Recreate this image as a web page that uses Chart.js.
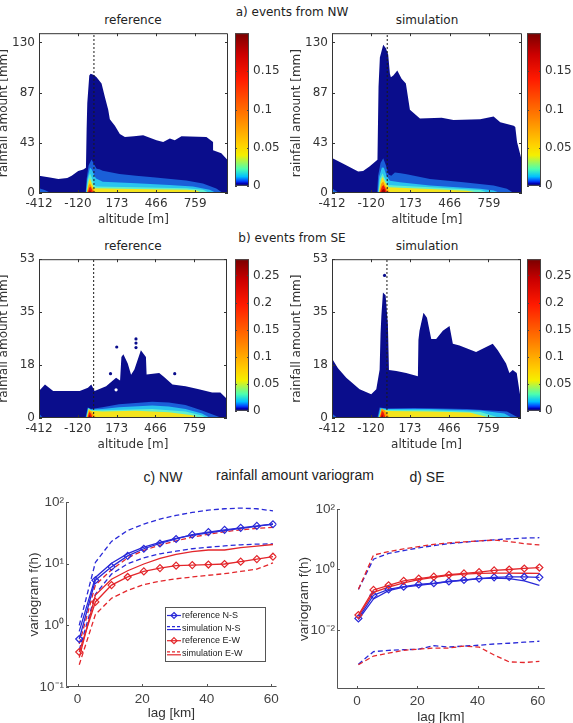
<!DOCTYPE html>
<html>
<head>
<meta charset="utf-8">
<script src="https://cdn.jsdelivr.net/npm/chart.js@4.4.1/dist/chart.umd.min.js"></script>
<style>
  body { margin: 0; background: #fff; }
  #page { position: relative; width: 573px; height: 723px; overflow: hidden; background: #fff; }
  canvas { position: absolute; }
  .lbl { position: absolute; transform: translate(-50%, -50%); white-space: nowrap; color: #222; }
  .dj { font: 12px "DejaVu Sans"; }
  .lib { font: 14px "Liberation Sans"; }
</style>
</head>
<body>
<div id="page">
  <div class="lbl dj" style="left:292px;top:12px">a) events from NW</div>
  <div class="lbl dj" style="left:133px;top:20px">reference</div>
  <div class="lbl dj" style="left:427px;top:20px">simulation</div>
  <div class="lbl dj" style="left:292px;top:238px">b) events from SE</div>
  <div class="lbl dj" style="left:133px;top:246px">reference</div>
  <div class="lbl dj" style="left:427px;top:246px">simulation</div>
  <div class="lbl lib" style="left:295px;top:475px">rainfall amount variogram</div>
  <div class="lbl lib" style="left:163px;top:477px">c) NW</div>
  <div class="lbl lib" style="left:427px;top:477px">d) SE</div>

  <canvas id="nw-ref" width="234" height="205" style="left:-3px;top:22px"></canvas>
  <canvas id="nw-ref-cb" width="48" height="175" style="left:233px;top:22px"></canvas>
  <canvas id="nw-sim" width="235" height="205" style="left:290px;top:22px"></canvas>
  <canvas id="nw-sim-cb" width="48" height="175" style="left:525px;top:22px"></canvas>

  <canvas id="se-ref" width="234" height="204" style="left:-3px;top:248px"></canvas>
  <canvas id="se-ref-cb" width="48" height="174" style="left:233px;top:248px"></canvas>
  <canvas id="se-sim" width="235" height="204" style="left:290px;top:248px"></canvas>
  <canvas id="se-sim-cb" width="48" height="174" style="left:525px;top:248px"></canvas>

  <canvas id="vario-nw" width="257" height="229" style="left:26px;top:492px"></canvas>
  <canvas id="vario-se" width="254" height="226" style="left:296px;top:499px"></canvas>
</div>
<script>
// ---------------------------------------------------------- DATA ----------------------------------------------------------
// contour plots: altitude [m] on x, rainfall amount [mm] on y
const altTicks = [-412, -120, 173, 466, 759];
const altMin = -412, altMax = 1005;
const nwRainTicks = [0, 43.33, 86.67, 130];
const nwRainMax = 138;
const seRainTicks = [0, 17.67, 35.33, 53];
const seRainMax = 53;
const nwCbTicks = [0, 0.05, 0.1, 0.15];
const nwCbMax = 0.2;
const seCbTicks = [0, 0.05, 0.1, 0.15, 0.2, 0.25];
const seCbMax = 0.28;

// upper edge of each filled contour level, [altitude, rainfall]; level 1 = outermost (lowest density)
const nwRef1 = [[-412,15],[-330,13.4],[-267,12],[-200,13],[-167,14.8],[-118,19],[-80,20.4],[-60,21.8],[-55,55],[-50,77.7],[-35,101.5],[-25,103],[0,102],[20,100],[57,94.5],[82,83],[107,72],[119,63.7],[157,58],[194,51],[232,48.4],[300,49],[369,49.8],[469,45.6],[519,44],[569,47],[606,45.6],[656,49],[843,48.4],[893,44],[893,37],[955,34.4],[1005,28]];
const nwRef2 = [[-412,4],[-370,2.5],[-322,0],[-62,0],[-55,12],[-40,24],[-18,29],[5,24],[20,21],[41,20.5],[66,19.3],[191,16.5],[316,15],[442,13.7],[692,10.9],[817,8.1],[917,3.9],[967,0]];
const nwRef3 = [[-412,1.5],[-385,0],[-60,0],[-50,12],[-30,22],[-15,20],[3,15],[16,12.6],[66,9.8],[316,8.4],[566,7],[742,5.6],[867,2.8],[917,0]];
const nwRef4 = [[-57,0],[-45,12],[-30,17],[-15,13],[3,7],[16,5.6],[316,5],[692,4.2],[817,2.8],[867,0]];
const nwRef5 = [[-55,0],[-40,10],[-30,12.6],[-15,8],[3,4.2],[316,3.4],[692,2.8],[767,2.2],[817,0]];
const nwRef6 = [[-53,0],[-40,6.5],[-30,8.4],[-15,5],[0,2.5],[15,0]];
const nwRef7 = [[-48,0],[-35,4.5],[-27,5.6],[-15,3],[-4,0]];
const nwRef8 = [[-40,0],[-30,2.5],[-18,0]];

const nwSim1 = [[-412,30.2],[-317,24.6],[-217,18.5],[-180,19],[-130,23.2],[-73,28.8],[-65,91.7],[-55,117],[-30,128],[-10,125],[7,119.7],[20,103],[27,100],[45,101.5],[75,105.7],[107,98.7],[139,94.5],[169,72],[244,64.3],[406,65],[494,63],[693,63.7],[793,66],[843,61],[943,58],[955,57],[968,44],[1005,27.4]];
const nwSim2 = [[-412,4],[-360,0],[-75,0],[-68,15],[-50,26],[-30,30],[-10,24],[10,16],[30,14.8],[57,17.6],[100,17],[145,16.2],[319,12],[569,9.2],[793,6.4],[893,3.6],[943,0]];
const nwSim3 = [[-412,2],[-380,0],[-70,0],[-60,14],[-40,22],[-25,21.8],[-5,15],[20,10.6],[94,9.2],[319,6.4],[693,3.6],[793,2.2],[843,0]];
const nwSim4 = [[-66,0],[-55,12],[-35,17],[-15,12],[10,7],[60,6.5],[319,5],[693,2.6],[760,0]];
const nwSim5 = [[-63,0],[-50,10],[-35,14],[-15,9],[12,5],[94,4.5],[319,3.5],[593,2],[700,0]];
const nwSim6 = [[-60,0],[-45,8],[-30,10],[-15,6],[5,2.5],[25,0]];
const nwSim7 = [[-55,0],[-40,5.5],[-28,7],[-15,4],[0,0]];
const nwSim8 = [[-48,0],[-35,3],[-22,3.5],[-12,0]];

const seRef1 = [[-412,9],[-367,11.2],[-305,9],[-200,9],[-105,9],[-43,10.1],[-18,11.2],[7,9],[94,10.6],[169,13.4],[199,12.5],[209,20.4],[224,21.3],[257,18.2],[282,14.4],[307,16.2],[356,22.6],[394,20.4],[399,14.5],[494,15],[531,13.7],[594,11.2],[693,10.6],[793,9.6],[893,8.5],[955,8.5],[1005,6.3]];
const seRef2 = [[-412,1.5],[-380,0],[-62,0],[-45,3.5],[-20,3],[66,3.6],[191,4.6],[441,5.4],[566,5.2],[692,4.3],[817,2.5],[917,0.8],[967,0]];
const seRef3 = [[-58,0],[-42,3.4],[-20,2.8],[66,3.0],[191,3.6],[441,4.2],[566,3.8],[692,3.0],[817,1.5],[880,0]];
const seRef4 = [[-55,0],[-40,3.2],[-20,2.6],[66,2.6],[441,3.0],[692,2.2],[817,0.8],[850,0]];
const seRef5 = [[-53,0],[-38,3.0],[-20,2.4],[66,2.2],[316,2.4],[566,1.9],[742,0.9],[800,0]];
const seRef6 = [[-50,0],[-35,2.6],[-20,2.2],[0,1.2],[20,0]];
const seRef7 = [[-46,0],[-33,2.0],[-20,1.4],[-8,0]];
const seRef8 = [[-40,0],[-30,1.1],[-20,0]];
const seRefDots = [[127,14.8],[174,23.7],[319,23.5],[319,25],[319,26.4],[611,14.8]];
const seRefHoles = [[169,9.4]];

const seSim1 = [[-412,19.9],[-367,16.6],[-305,13.4],[-205,9.6],[-118,7.9],[-80,9.6],[-55,16.1],[-48,28],[-42,34],[-30,41.9],[-10,41],[7,31.3],[12,22],[15,16],[70,15.7],[144,15],[232,13.9],[236,26],[244,29.1],[274,35.1],[300,33.5],[332,26.4],[369,26.4],[419,29.1],[469,30.7],[494,24.8],[544,24.2],[668,22],[793,24.8],[831,22.6],[893,18.2],[918,15],[943,16],[973,15],[990,10],[1005,5.8]];
const seSim2 = [[-412,1.5],[-370,0],[-72,0],[-55,3.5],[0,3.2],[200,3.3],[600,3.0],[900,2.2],[990,0]];
const seSim3 = [[-67,0],[-50,3.3],[0,3.0],[311,3.0],[700,2.5],[880,1.5],[940,0]];
const seSim4 = [[-62,0],[-45,3.0],[0,2.7],[311,2.6],[700,2.0],[850,0]];
const seSim5 = [[-60,0],[-43,2.8],[12,2.3],[311,2.2],[620,1.8],[780,0]];
const seSim6 = [[-56,0],[-40,3.2],[-20,2.6],[0,1.5],[20,0]];
const seSim7 = [[-52,0],[-38,2.4],[-25,1.8],[-10,0]];
const seSim8 = [[-46,0],[-36,1.2],[-26,0]];
const seSimDots = [[-18,47.6]];

// variograms: lag [km] vs f(h)
const lags = [0.5, 5.5, 10.5, 15.5, 20.5, 25.5, 30.5, 35.5, 40.5, 45.5, 50.5, 55.5, 60.5];
const lagTicks = [0, 20, 40, 60];

const nwRefNS   = [0.6, 5.4, 8.9, 13.4, 17.5, 21.3, 25.2, 29.6, 32.6, 35.5, 38.2, 41.1, 43.7];
const nwSimNS   = [0.8, 6.0, 10.2, 14.6, 18.6, 22.3, 25.8, 29, 31.8, 34.5, 37.5, 40.5, 44.5];
const nwSimNSlo = [0.4, 3.2, 6.8, 10, 12.5, 14.5, 16, 17.5, 18.5, 19.5, 20.3, 20.8, 21];
const nwSimNShi = [1.0, 10.5, 23, 34.7, 44, 53, 61, 68, 74, 78, 80, 78, 72];
const nwRefEW   = [0.37, 2.4, 4.5, 6.1, 7.5, 8.5, 9.3, 9.5, 9.7, 9.9, 10.8, 11.9, 13];
const nwSimEW   = [0.3, 3.1, 5.6, 7.7, 9.9, 12.2, 14.2, 15.7, 16.7, 16.7, 18.2, 19.3, 20.5];
const nwSimEWlo = [0.23, 1.5, 2.75, 3.7, 4.6, 5.2, 5.7, 6.1, 6.5, 6.9, 7.5, 8.2, 10.3];
const nwSimEWhi = [0.5, 4.5, 8, 12.5, 16.5, 20, 23.5, 27, 30, 33, 35.5, 37.5, 39];
const nwVarioTicks = [0.1, 1, 10, 100];

const seRefNS   = [0.024, 0.14, 0.22, 0.27, 0.32, 0.35, 0.40, 0.45, 0.50, 0.55, 0.565, 0.565, 0.55];
const seSimNS   = [0.022, 0.106, 0.2, 0.26, 0.3, 0.34, 0.4, 0.44, 0.5, 0.52, 0.5, 0.42, 0.3];
const seSimNSlo = [0.00073, 0.0019, 0.0021, 0.0022, 0.0023, 0.003, 0.0027, 0.0029, 0.0031, 0.0034, 0.0036, 0.0039, 0.0042];
const seSimNShi = [0.22, 2.2, 3.4, 4.2, 5.2, 6.2, 7.2, 8.0, 8.8, 9.6, 10.4, 11, 11.3];
const seRefEW   = [0.031, 0.21, 0.30, 0.42, 0.50, 0.58, 0.67, 0.74, 0.82, 0.93, 1.0, 1.08, 1.16];
const seSimEW   = [0.028, 0.175, 0.26, 0.36, 0.46, 0.55, 0.64, 0.7, 0.74, 0.76, 0.76, 0.75, 0.74];
const seSimEWlo = [0.0007, 0.00136, 0.0017, 0.0021, 0.0023, 0.0025, 0.0025, 0.0029, 0.0027, 0.00147, 0.00087, 0.00083, 0.0009];
const seSimEWhi = [0.22, 3.0, 3.9, 4.8, 5.7, 6.8, 7.6, 8.2, 8.8, 9.4, 8.4, 7.2, 6.5];
const seVarioTicks = [0.01, 1, 100];

const legendLabels = ['reference N-S', 'simulation N-S', 'reference E-W', 'simulation E-W'];

// ---------------------------------------------------------- STYLE ----------------------------------------------------------
const levelColors = ['#0a0d8c', '#1a5fd8', '#2ac4ef', '#62f0cc', '#f4e41c', '#ff9800', '#ee1a0c', '#9c0000'];
const jetStops = [[0, '#00007a'], [0.015, '#0000b4'], [0.03, '#0040ff'], [0.06, '#00c0ff'], [0.11, '#4cffb0'],
                  [0.2, '#f4f000'], [0.27, '#ffd000'], [0.45, '#ff8000'], [0.7, '#ff1a00'], [0.86, '#cc0000'], [1, '#7a0000']];
const BLUE = '#2a2ad8';
const RED = '#e3262b';
const djFont = { family: 'DejaVu Sans', size: 12 };
const libFont = { family: 'Liberation Sans', size: 13.5 };

// box around the plot + inward tick marks
const framePlugin = {
    id: 'frame',
    afterDatasetsDraw(chart, args, opts) {
        const { ctx, chartArea: a } = chart;
        const xs = chart.scales.x, ys = chart.scales.y;
        const t = opts.tick || 0;
        ctx.save();
        ctx.strokeStyle = opts.color || '#333';
        ctx.lineWidth = 1;
        ctx.beginPath();
        if (opts.box) {
            ctx.rect(a.left + 0.5, a.top + 0.5, a.right - a.left - 1, a.bottom - a.top - 1);
        } else {
            ctx.moveTo(a.left + 0.5, a.top);
            ctx.lineTo(a.left + 0.5, a.bottom - 0.5);
            ctx.lineTo(a.right, a.bottom - 0.5);
        }
        if (t && xs.options.display !== false) {
            xs.ticks.forEach(k => {
                const p = Math.round(xs.getPixelForValue(k.value)) + 0.5;
                ctx.moveTo(p, a.bottom); ctx.lineTo(p, a.bottom - t);
                if (opts.box) { ctx.moveTo(p, a.top); ctx.lineTo(p, a.top + t); }
            });
        }
        if (t) {
            ys.ticks.forEach(k => {
                const p = Math.round(ys.getPixelForValue(k.value)) + 0.5;
                ctx.moveTo(a.left, p); ctx.lineTo(a.left + t, p);
                if (opts.box) { ctx.moveTo(a.right, p); ctx.lineTo(a.right - t, p); }
            });
        }
        ctx.stroke();
        ctx.restore();
    }
};

// legend box inside the NW variogram
const legendPlugin = {
    id: 'boxLegend',
    afterDraw(chart) {
        const { ctx, chartArea: a } = chart;
        const x0 = Math.round(a.right) - 112, y0 = Math.round(a.bottom) - 80;
        ctx.save();
        ctx.fillStyle = '#fff';
        ctx.fillRect(x0, y0, 100, 54);
        ctx.strokeStyle = '#555';
        ctx.lineWidth = 1;
        ctx.strokeRect(x0 + 0.5, y0 + 0.5, 100, 54);
        ctx.font = '9px "Liberation Sans"';
        ctx.textBaseline = 'middle';
        legendLabels.forEach((txt, i) => {
            const y = y0 + 8.5 + i * 12.6;
            const col = i < 2 ? BLUE : RED;
            ctx.strokeStyle = col;
            ctx.lineWidth = 1.2;
            if (i % 2 === 0) {
                ctx.beginPath(); ctx.moveTo(x0 + 2, y); ctx.lineTo(x0 + 16, y); ctx.stroke();
                ctx.beginPath();
                ctx.moveTo(x0 + 9, y - 3); ctx.lineTo(x0 + 12, y); ctx.lineTo(x0 + 9, y + 3); ctx.lineTo(x0 + 6, y);
                ctx.closePath(); ctx.stroke();
            } else {
                ctx.setLineDash([3, 2]);
                ctx.beginPath(); ctx.moveTo(x0 + 2, y - 1.5); ctx.lineTo(x0 + 16, y - 1.5); ctx.stroke();
                ctx.setLineDash([]);
                ctx.beginPath(); ctx.moveTo(x0 + 2, y + 1.5); ctx.lineTo(x0 + 16, y + 1.5); ctx.stroke();
            }
            ctx.fillStyle = '#222';
            ctx.fillText(txt, x0 + 17, y);
        });
        ctx.restore();
    }
};

function toXY(pts) {
    return pts.map(p => ({ x: p[0], y: p[1] }));
}

// ---------------------------------------------------------- CONTOURS ----------------------------------------------------------
function contourChart(id, levels, yTicks, yMax, dots, holes) {
    const ds = [];
    ds.push({ data: [{ x: 0, y: 0 }, { x: 0, y: yMax }], borderColor: '#1a1a1a', borderWidth: 1,
              borderDash: [2, 2], pointRadius: 0, fill: false });
    if (holes) ds.push({ type: 'scatter', data: toXY(holes), pointRadius: 1.6, backgroundColor: '#fff', borderWidth: 0 });
    if (dots) ds.push({ type: 'scatter', data: toXY(dots), pointRadius: 1.6, backgroundColor: levelColors[0], borderWidth: 0 });
    for (let i = levels.length - 1; i >= 0; i--) {
        ds.push({ data: toXY(levels[i]), fill: 'origin', backgroundColor: levelColors[i],
                  borderColor: levelColors[i], borderWidth: 0, pointRadius: 0, tension: 0 });
    }
    new Chart(document.getElementById(id), {
        type: 'line',
        data: { datasets: ds },
        options: {
            responsive: false, animation: false, events: [],
            layout: { padding: { top: 7, right: 3, left: 0, bottom: 0 } },
            plugins: { legend: { display: false }, tooltip: { enabled: false },
                       frame: { box: true, tick: 3, color: '#333' } },
            scales: {
                x: {
                    type: 'linear', min: altMin, max: altMax,
                    grid: { display: false, drawTicks: false }, border: { display: false },
                    afterBuildTicks: s => { s.ticks = altTicks.map(v => ({ value: v })); },
                    afterFit: s => { s.height = 34; },
                    ticks: { padding: 4, color: '#333', font: djFont, maxRotation: 0, autoSkip: false,
                             callback: v => Math.round(v) },
                    title: { display: true, text: 'altitude [m]', padding: 0, color: '#333', font: djFont }
                },
                y: {
                    type: 'linear', min: 0, max: yMax,
                    grid: { display: false, drawTicks: false }, border: { display: false },
                    afterBuildTicks: s => { s.ticks = yTicks.map(v => ({ value: v })); },
                    afterFit: s => { s.width = 42; },
                    ticks: { padding: 4, color: '#333', font: djFont, autoSkip: false,
                             callback: v => Math.round(v) },
                    title: { display: true, text: 'rainfall amount [mm]', padding: 0, color: '#333', font: djFont }
                }
            }
        },
        plugins: [framePlugin]
    });
}

function colorbar(id, cbTicks, cbMax) {
    new Chart(document.getElementById(id), {
        type: 'bar',
        data: {
            labels: ['density'],
            datasets: [{
                data: [cbMax], barPercentage: 1, categoryPercentage: 1, borderWidth: 0,
                backgroundColor: c => {
                    const a = c.chart.chartArea;
                    if (!a) return jetStops[0][1];
                    const g = c.chart.ctx.createLinearGradient(0, a.bottom, 0, a.top);
                    jetStops.forEach(s => g.addColorStop(s[0], s[1]));
                    return g;
                }
            }]
        },
        options: {
            responsive: false, animation: false, events: [],
            layout: { padding: { top: 7, left: 2, right: 0, bottom: 4 } },
            plugins: { legend: { display: false }, tooltip: { enabled: false },
                       frame: { box: true, tick: 2, color: '#444' } },
            scales: {
                x: { display: false },
                y: {
                    position: 'right', min: 0, max: cbMax,
                    grid: { display: false, drawTicks: false }, border: { display: false },
                    afterBuildTicks: s => { s.ticks = cbTicks.map(v => ({ value: v })); },
                    afterFit: s => { s.width = 32; },
                    ticks: { padding: 4, color: '#333', font: djFont, autoSkip: false, callback: v => String(v) }
                }
            }
        },
        plugins: [framePlugin]
    });
}

contourChart('nw-ref', [nwRef1, nwRef2, nwRef3, nwRef4, nwRef5, nwRef6, nwRef7, nwRef8], nwRainTicks, nwRainMax);
contourChart('nw-sim', [nwSim1, nwSim2, nwSim3, nwSim4, nwSim5, nwSim6, nwSim7, nwSim8], nwRainTicks, nwRainMax);
contourChart('se-ref', [seRef1, seRef2, seRef3, seRef4, seRef5, seRef6, seRef7, seRef8], seRainTicks, seRainMax, seRefDots, seRefHoles);
contourChart('se-sim', [seSim1, seSim2, seSim3, seSim4, seSim5, seSim6, seSim7, seSim8], seRainTicks, seRainMax, seSimDots);
colorbar('nw-ref-cb', nwCbTicks, nwCbMax);
colorbar('nw-sim-cb', nwCbTicks, nwCbMax);
colorbar('se-ref-cb', seCbTicks, seCbMax);
colorbar('se-sim-cb', seCbTicks, seCbMax);

// ---------------------------------------------------------- VARIOGRAMS ----------------------------------------------------------
const sup = { '-': '\u207B', '0': '\u2070', '1': '\u00B9', '2': '\u00B2', '3': '\u00B3', '4': '\u2074' };
function decade(v) {
    const e = Math.round(Math.log10(v));
    return '10' + String(e).split('').map(c => sup[c]).join('');
}

function series(vals, color, kind) {
    return {
        data: lags.map((x, i) => ({ x: x, y: vals[i] })),
        borderColor: color, borderWidth: 1.3, fill: false, tension: 0,
        borderDash: kind === 'dash' ? [5, 3] : [],
        pointRadius: kind === 'ref' ? 3.5 : 0, pointStyle: 'rectRot',
        pointBorderColor: color, pointBackgroundColor: 'rgba(255,255,255,0)', pointBorderWidth: 1.2
    };
}

function varioChart(id, sets, yMin, yMax, yTicks, xMin, xMax, yW, xH, extra) {
    new Chart(document.getElementById(id), {
        type: 'line',
        data: { datasets: sets },
        options: {
            responsive: false, animation: false, events: [],
            layout: { padding: { top: 6, right: 5, left: 0, bottom: 0 } },
            plugins: { legend: { display: false }, tooltip: { enabled: false },
                       frame: { box: false, tick: 3, color: '#555' } },
            scales: {
                x: {
                    type: 'linear', min: xMin, max: xMax,
                    grid: { display: false, drawTicks: false }, border: { display: false },
                    afterBuildTicks: s => { s.ticks = lagTicks.map(v => ({ value: v })); },
                    afterFit: s => { s.height = xH; },
                    ticks: { padding: 4, color: '#444', font: libFont, maxRotation: 0, autoSkip: false },
                    title: { display: true, text: 'lag [km]', padding: 0, color: '#333', font: libFont }
                },
                y: {
                    type: 'logarithmic', min: yMin, max: yMax,
                    grid: { display: false, drawTicks: false }, border: { display: false },
                    afterBuildTicks: s => { s.ticks = yTicks.map(v => ({ value: v, major: true })); },
                    afterFit: s => { s.width = yW; },
                    ticks: { padding: 2, color: '#444', font: libFont, autoSkip: false, callback: v => decade(v) },
                    title: { display: true, text: 'variogram f(h)', padding: 0, color: '#333', font: libFont }
                }
            }
        },
        plugins: extra ? [framePlugin, extra] : [framePlugin]
    });
}

varioChart('vario-nw', [
    series(nwRefNS, BLUE, 'ref'), series(nwRefEW, RED, 'ref'),
    series(nwSimNS, BLUE, 'solid'), series(nwSimEW, RED, 'solid'),
    series(nwSimNShi, BLUE, 'dash'), series(nwSimNSlo, BLUE, 'dash'),
    series(nwSimEWhi, RED, 'dash'), series(nwSimEWlo, RED, 'dash')
], 0.1, 100, nwVarioTicks, -3.6, 61.6, 40, 34, legendPlugin);

varioChart('vario-se', [
    series(seRefEW, RED, 'ref'), series(seRefNS, BLUE, 'ref'),
    series(seSimEW, RED, 'solid'), series(seSimNS, BLUE, 'solid'),
    series(seSimEWhi, RED, 'dash'), series(seSimEWlo, RED, 'dash'),
    series(seSimNShi, BLUE, 'dash'), series(seSimNSlo, BLUE, 'dash')
], 1.1e-4, 100, seVarioTicks, -6.6, 62.3, 41, 36);
</script>
</body>
</html>
